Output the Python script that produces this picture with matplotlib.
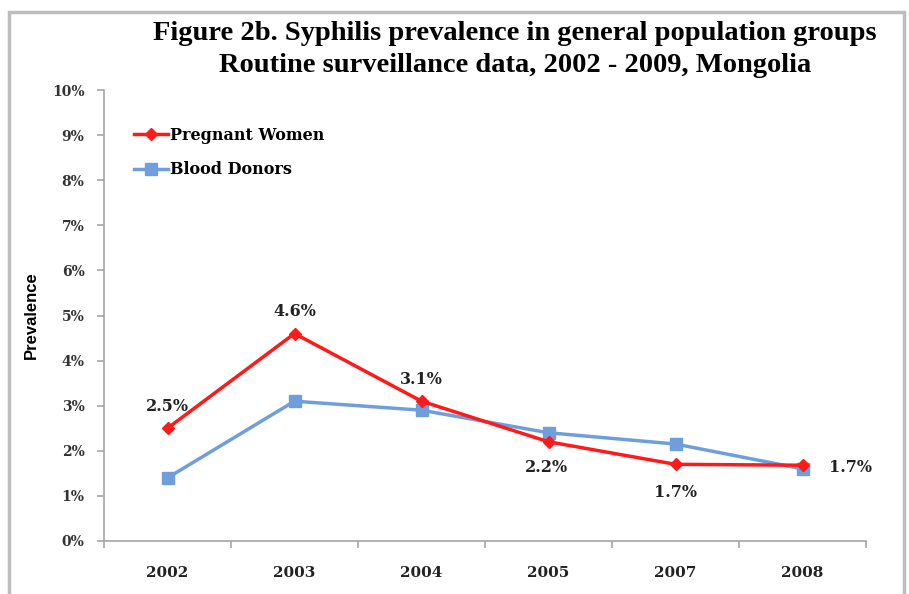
import matplotlib
matplotlib.use("Agg")
import matplotlib.pyplot as plt
from matplotlib.patches import Rectangle

years = ["2002", "2003", "2004", "2005", "2007", "2008"]
pregnant = [2.5, 4.6, 3.1, 2.2, 1.7, 1.68]
donors = [1.4, 3.1, 2.9, 2.4, 2.15, 1.6]
pregnant_labels = ["2.5%", "4.6%", "3.1%", "2.2%", "1.7%", "1.7%"]
yticks = list(range(0, 11))

RED = "#FF1A1A"
BLUE = "#6E9FDC"
SERIF = ["DejaVu Serif"]
TITLE = ["Liberation Serif", "DejaVu Serif"]

fig = plt.figure(figsize=(9.09, 5.94), dpi=100)
fig.patches.append(Rectangle((9/909, -0.01), (904-9)/909, (594-12)/594 + 0.01,
                             transform=fig.transFigure, fill=False,
                             edgecolor="#BDBDBD", linewidth=2.5))
ax = fig.add_axes([104/909, (594-541)/594, (866-104)/909, (541-90)/594])

x = list(range(len(years)))
ax.plot(x, pregnant, color=RED, lw=2.5, marker="D", ms=6, label="Pregnant Women", zorder=3)
ax.plot(x, donors, color=BLUE, lw=2.5, marker="s", ms=9, label="Blood Donors", zorder=2)

ax.set_xlim(-0.5, len(years) - 0.5)
ax.set_ylim(0, 10)
ax.set_yticks(yticks)
ax.set_yticklabels([f"{v}%" for v in yticks], fontfamily=SERIF, fontweight="bold",
                   fontsize=10, color="#333333")
ax.set_xticks(x)
ax.set_xticklabels(years, fontfamily=SERIF, fontweight="bold", fontsize=11, color="#222222")
ax.set_xticks([i - 0.5 for i in range(len(years) + 1)], minor=True)
ax.tick_params(axis="x", which="major", length=0, pad=18)
ax.tick_params(axis="x", which="minor", length=5, color="#A6A6A6", width=1.2)
ax.tick_params(axis="y", length=5, color="#A6A6A6", width=1.2, pad=9)
for s in ["top", "right"]:
    ax.spines[s].set_visible(False)
for s in ["left", "bottom"]:
    ax.spines[s].set_color("#A6A6A6")
    ax.spines[s].set_linewidth(1.2)

offsets = [(0, 22), (0, 22), (0, 22), (-2, -26), (0, -28), (48, -2)]
for i, (v, lab) in enumerate(zip(pregnant, pregnant_labels)):
    dx, dy = offsets[i]
    ax.annotate(lab, (i, v), xytext=(dx, dy), textcoords="offset pixels",
                ha="center", va="center", fontfamily=SERIF, fontweight="bold",
                fontsize=11.5, color="#222222")

ax.set_ylabel("Prevalence", fontfamily=["Liberation Sans", "DejaVu Sans"], fontweight="bold",
              fontsize=12)
ax.yaxis.set_label_coords(-0.085, 0.5)

leg = ax.legend(loc="upper left", bbox_to_anchor=(0.021, 0.95), frameon=False,
                prop={"family": SERIF, "weight": "bold", "size": 11.5},
                handlelength=2.1, handletextpad=0.15, labelspacing=1.1)

fig.text(515/909, 1 - 33/594, "Figure 2b. Syphilis prevalence in general population groups",
         ha="center", va="center", fontfamily=TITLE, fontweight="bold", fontsize=20.5)
fig.text(515/909, 1 - 65/594, "Routine surveillance data, 2002 - 2009, Mongolia",
         ha="center", va="center", fontfamily=TITLE, fontweight="bold", fontsize=20.5)

fig.savefig("out.png", dpi=100)
